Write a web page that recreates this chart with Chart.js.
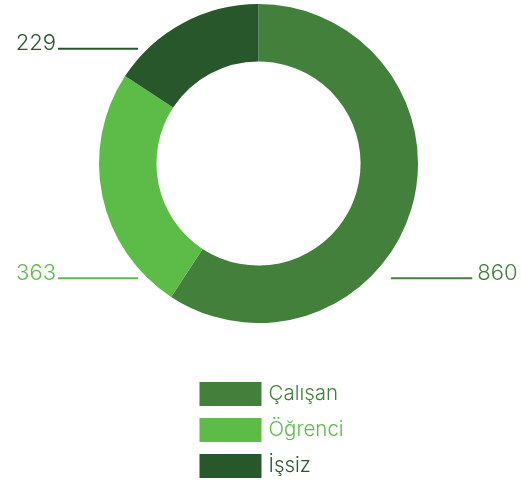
<!DOCTYPE html>
<html>
<head>
<meta charset="utf-8">
<script src="https://cdn.jsdelivr.net/npm/chart.js@4"></script>
<style>
    html, body { margin: 0; padding: 0; background: #fff; }
    #wrap { width: 521px; height: 482px; position: relative; }
</style>
</head>
<body>
<div id="wrap"><canvas id="statusChart"></canvas></div>
<script>
const categories = ["Çalışan", "Öğrenci", "İşsiz"];
const counts = [860, 363, 229];
const colors = ["#43803c", "#5dbb47", "#28572b"];
const fontFamily = "Inter, Lato, sans-serif";

// leader line + number beside each slice
const valueLabels = {
    id: "valueLabels",
    afterDatasetsDraw(chart) {
        const ctx = chart.ctx;
        const arcs = chart.getDatasetMeta(0).data;
        ctx.save();
        ctx.font = "300 22px " + fontFamily;
        ctx.textBaseline = "alphabetic";
        arcs.forEach((arc, i) => {
            const cx = arc.x, cy = arc.y, r = arc.outerRadius;
            const mid = (arc.startAngle + arc.endAngle) / 2;
            const right = Math.cos(mid) >= 0;
            const y = cy + (Math.sin(mid) >= 0 ? 1 : -1) * 0.72 * r;
            let x0, x1;
            if (right) {
                x0 = cx + 0.83 * r;
                x1 = cx + 1.34 * r;
            } else {
                x0 = cx - 1.257 * r;
                x1 = cx - 0.755 * r;
            }
            ctx.strokeStyle = colors[i];
            ctx.lineWidth = 2;
            ctx.beginPath();
            ctx.moveTo(x0, y);
            ctx.lineTo(x1, y);
            ctx.stroke();

            ctx.fillStyle = colors[i];
            if (right) {
                ctx.textAlign = "left";
                ctx.fillText(String(counts[i]), x1 + 5, y + 1.5);
            } else {
                ctx.textAlign = "right";
                ctx.fillText(String(counts[i]), x0 - 2, y + 1.5);
            }
        });
        ctx.restore();
    }
};

// vertical legend under the ring
const stackedLegend = {
    id: "stackedLegend",
    afterDraw(chart) {
        const ctx = chart.ctx;
        const area = chart.chartArea;
        const left = (area.left + area.right) / 2 - 59;
        const top = area.bottom + 59;
        ctx.save();
        ctx.font = "300 20.5px " + fontFamily;
        ctx.textAlign = "left";
        ctx.textBaseline = "middle";
        categories.forEach((name, i) => {
            const y = top + i * 36;
            ctx.fillStyle = colors[i];
            ctx.fillRect(left, y, 62, 24);
            ctx.fillText(name, left + 69, y + 12);
        });
        ctx.restore();
    }
};

const canvas = document.getElementById("statusChart").getContext("2d");

const statusChart = new Chart(canvas, {
    type: "doughnut",
    data: {
        labels: categories,
        datasets: [{
            data: counts,
            backgroundColor: colors,
            borderWidth: 0
        }]
    },
    options: {
        responsive: true,
        maintainAspectRatio: false,
        animation: false,
        cutout: "64%",
        layout: {
            padding: { top: 4, bottom: 159, left: 0, right: 4 }
        },
        plugins: {
            legend: { display: false },
            tooltip: { enabled: false }
        }
    },
    plugins: [valueLabels, stackedLegend]
});
</script>
</body>
</html>
